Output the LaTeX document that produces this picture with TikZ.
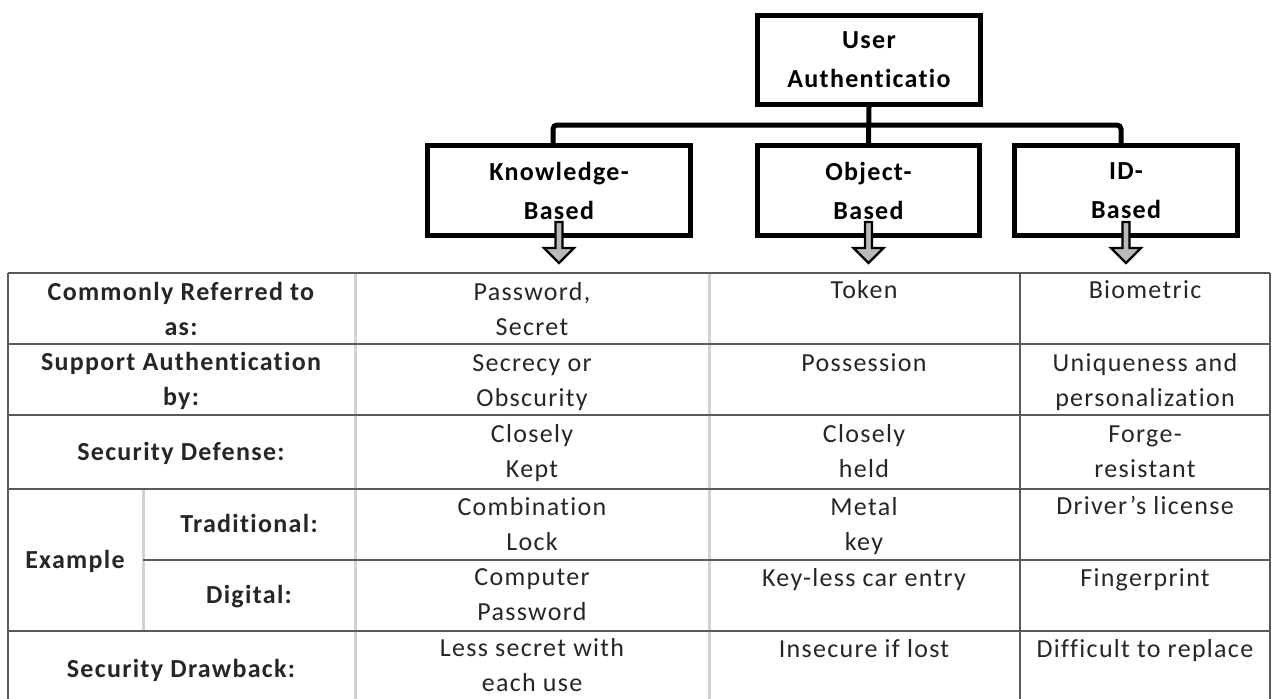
\documentclass[tikz,border=0pt]{standalone}
\usepackage{fontspec}
\setmainfont{Carlito}[LetterSpace=5.0, Ligatures={NoCommon}]
\usepackage{tikz}
\usetikzlibrary{positioning, calc}
\definecolor{rulegray}{HTML}{5A5A5A}
\definecolor{palegray}{HTML}{D2D2D2}
\definecolor{inkgray}{HTML}{262626}

% multi-line cells sit on the baseline of their last line
\tikzset{
  headbox/.style={draw=black, line width=5pt, align=center, text=black,
    font=\bfseries\fontsize{26}{39}\selectfont, minimum height=90pt},
  cell/.style={align=center, anchor=base, inner sep=0pt, text=inkgray,
    font=\fontsize{26}{35}\selectfont},
  rowhead/.style={cell, font=\bfseries\fontsize{26}{35}\selectfont},
  darkrule/.style={draw=rulegray, line width=2pt},
  lightrule/.style={draw=palegray, line width=3pt},
  blockarrow/.style={fill=gray!55, draw=black, line width=2.2pt, line join=miter},
}
\newcommand{\downarrowbelow}[1]{%
  \filldraw[blockarrow] ($(#1.south)+(-3.5,-16)$) -- ($(#1.south)+(3.5,-16)$)
    -- ($(#1.south)+(3.5,10)$) -- ($(#1.south)+(15,10)$) -- ($(#1.south)+(0,25)$)
    -- ($(#1.south)+(-15,10)$) -- ($(#1.south)+(-3.5,10)$) -- cycle;}

\begin{document}
\begin{tikzpicture}[x=1pt, y=-1pt]
  \useasboundingbox (0,0) rectangle (1275,699);

  % boxes on top
  \node[headbox, minimum width=223pt, minimum height=89pt] (user) at (869,60) {User\\Authenticatio};
  \node[headbox, minimum width=263pt] (knowledge) at (559,190.5) {Knowledge-\\Based};
  \node[headbox, minimum width=222pt] (object) at (868.5,190.5) {Object-\\Based};
  \node[headbox, minimum width=223pt] (idbased) at (1126,190.5) {ID-\\Based};

  \draw[line width=5pt] (user.south) -- (object.north);
  \draw[line width=5pt, rounded corners=4pt] ([xshift=-6pt]knowledge.north)
    |- ($(user.south)!0.5!(object.north)$) -| ([xshift=-5pt]idbased.north);

  \downarrowbelow{knowledge}
  \downarrowbelow{object}
  \downarrowbelow{idbased}

  % table rules
  \draw[lightrule] (355,273) -- (355,699);
  \draw[lightrule] (709,273) -- (709,699);
  \draw[lightrule] (143,489) -- (143,631);
  \draw[darkrule] (1020,273) -- (1020,699);
  \draw[darkrule] (1270,273) -- (1270,699);
  \draw[darkrule] (8,273) -- (8,699);
  \foreach \y in {273,344,415,489,631}
    \draw[darkrule] (8,\y) -- (1270,\y);
  \draw[darkrule] (143,560) -- (1270,560);

  % row headings
  \node[rowhead] (commonly) at (181,335) {Commonly Referred to\\as:};
  \node[rowhead] (support) at (181,405) {Support Authentication\\by:};
  \node[rowhead] (defense) at (181,460) {Security Defense:};
  \node[rowhead] (example) at (75,568) {Example};
  \node[rowhead] (traditional) at (249,532) {Traditional:};
  \node[rowhead] (digital) at (249,603) {Digital:};
  \node[rowhead] (drawback) at (181,677) {Security Drawback:};

  % knowledge column
  \node[cell] (password) at (532,335) {Password,\\Secret};
  \node[cell] (secrecy) at (532,406) {Secrecy or\\Obscurity};
  \node[cell] (kept) at (532,477) {Closely\\Kept};
  \node[cell] (combination) at (532,550) {Combination\\Lock};
  \node[cell] (computer) at (532,620) {Computer\\Password};
  \node[cell] (lesssecret) at (532,691) {Less secret with\\each use};

  % object column
  \node[cell] (token) at (864,298) {Token};
  \node[cell] (possession) at (864,371) {Possession};
  \node[cell] (held) at (864,477) {Closely\\held};
  \node[cell] (metalkey) at (864,550) {Metal\\key};
  \node[cell] (keyless) at (864,586) {Key-less car entry};
  \node[cell] (insecure) at (864,657) {Insecure if lost};

  % id column
  \node[cell] (biometric) at (1145,298) {Biometric};
  \node[cell] (uniqueness) at (1145,406) {Uniqueness and\\personalization};
  \node[cell] (forge) at (1145,477) {Forge-\\resistant};
  \node[cell] (license) at (1145,514) {Driver’s license};
  \node[cell] (fingerprint) at (1145,586) {Fingerprint};
  \node[cell] (replace) at (1145,657) {Difficult to replace};
\end{tikzpicture}
\end{document}
